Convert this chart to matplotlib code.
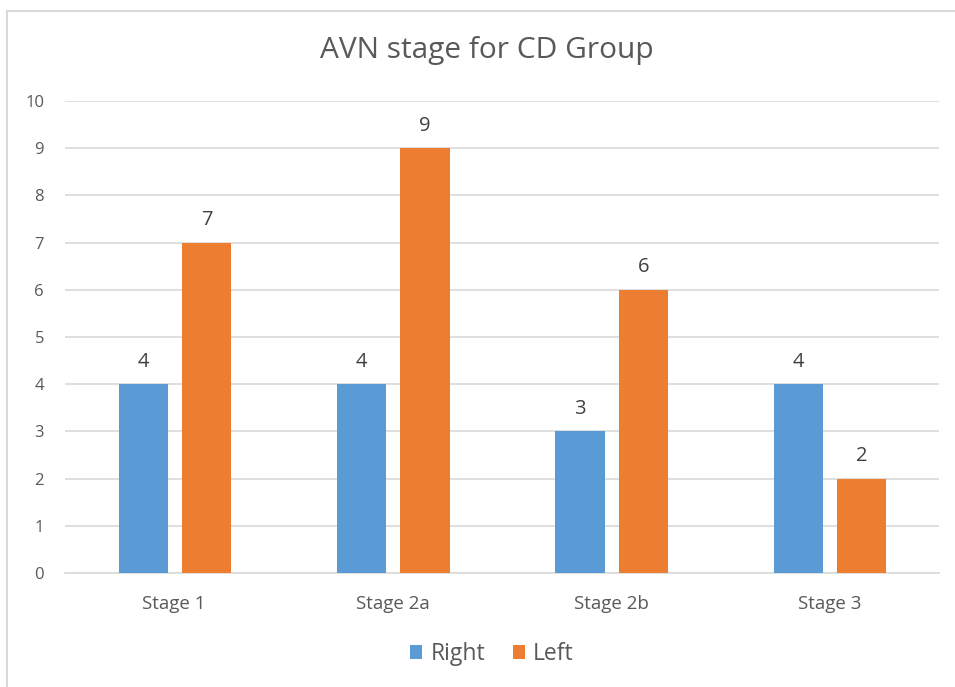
import numpy as np
import matplotlib.pyplot as plt
from matplotlib.patches import Rectangle

stages = ['Stage 1', 'Stage 2a', 'Stage 2b', 'Stage 3']
right = [4, 4, 3, 4]
left = [7, 9, 6, 2]

plt.rcParams['font.family'] = ['Open Sans', 'DejaVu Sans']

fig = plt.figure(figsize=(9.55, 6.87), dpi=100)
ax = fig.add_axes([0.068, 0.166, 0.915, 0.687])

# chart frame (left and top edge only)
fig.patches.append(Rectangle((7 / 955, -0.1), 1.2, 1 - 11 / 687 + 0.1,
                             transform=fig.transFigure, fill=False,
                             edgecolor='#d9d9d9', lw=1.5))

x = np.arange(len(stages))
w = 0.225
b1 = ax.bar(x - 0.142, right, w, color='#5b9bd5', label='Right', zorder=3)
b2 = ax.bar(x + 0.148, left, w, color='#ed7d31', label='Left', zorder=3)

for bars in (b1, b2):
    for rect in bars:
        h = rect.get_height()
        ax.annotate(f'{h:g}', (rect.get_x() + rect.get_width() / 2, h),
                    xytext=(0, 9), textcoords='offset points',
                    ha='center', va='bottom', fontsize=14.5, color='#404040')

ax.set_xlim(-0.5, 3.5)
ax.set_ylim(0, 10)
ax.set_yticks(range(0, 11))
ax.set_xticks(x)
ax.set_xticklabels(stages)
ax.tick_params(axis='both', length=0, colors='#595959')
ax.tick_params(axis='y', pad=15, labelsize=12)
ax.tick_params(axis='x', pad=16, labelsize=13.5)
ax.yaxis.grid(True, color='#d9d9d9', lw=1.2)
ax.set_axisbelow(True)
for s in ['top', 'right', 'left']:
    ax.spines[s].set_visible(False)
ax.spines['bottom'].set_color('#d9d9d9')
ax.spines['bottom'].set_linewidth(1.2)

fig.text(0.51, 0.926, 'AVN stage for CD Group', ha='center', va='center',
         fontsize=21.5, color='#595959')

fig.legend(handles=[b1, b2], loc='center', bbox_to_anchor=(0.515, 0.048),
           ncol=2, frameon=False, fontsize=16.5, labelcolor='#595959',
           handlelength=0.55, handleheight=0.55, handletextpad=0.35,
           columnspacing=1.2)

fig.savefig('out.png', dpi=100)
